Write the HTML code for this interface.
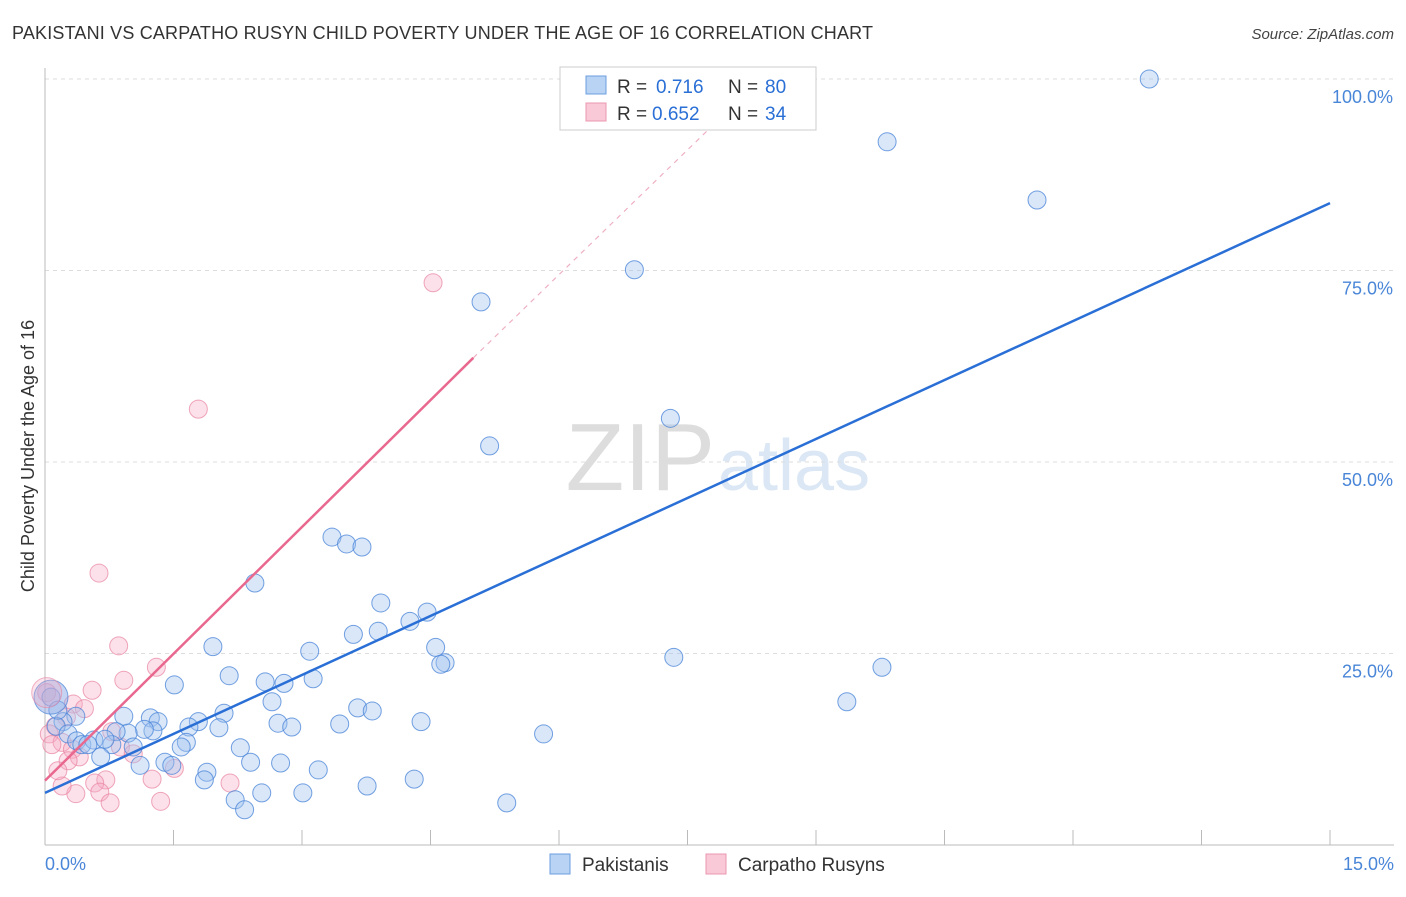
<!DOCTYPE html>
<html><head><meta charset="utf-8"><style>
body{margin:0;background:#fff;font-family:"Liberation Sans",sans-serif;}
svg text{font-family:"Liberation Sans",sans-serif;}
</style></head><body>
<svg id="chart" width="1406" height="892" xmlns="http://www.w3.org/2000/svg">
<text x="12" y="39" font-size="18" fill="#333" textLength="861">PAKISTANI VS CARPATHO RUSYN CHILD POVERTY UNDER THE AGE OF 16 CORRELATION CHART</text>
<text x="1394" y="39" font-size="15" fill="#444" font-style="italic" text-anchor="end">Source: ZipAtlas.com</text>
<text x="715" y="490" font-size="96" fill="#ddd" text-anchor="end" font-family="Liberation Serif">ZIP</text>
<text x="718" y="490" font-size="72" fill="#dbe7f5">atlas</text>
<text transform="translate(34,456) rotate(-90)" font-size="18" fill="#333" text-anchor="middle">Child Poverty Under the Age of 16</text>
<g id="grid"></g><g id="axes"></g><g id="pts"></g><g id="lines"></g>
<g>
<rect x="560" y="67" width="256" height="63" fill="#fff" stroke="#ccc"/>
<rect x="586" y="76" width="20" height="18" fill="#b8d3f3" stroke="#6d9ee0"/>
<rect x="586" y="103" width="20" height="18" fill="#f9c9d7" stroke="#ec97b0"/>
<text x="617" y="93" font-size="19" fill="#333">R =</text><text x="656" y="93" font-size="19" fill="#2a6fd6">0.716</text>
<text x="728" y="93" font-size="19" fill="#333">N =</text><text x="765" y="93" font-size="19" fill="#2a6fd6">80</text>
<text x="617" y="120" font-size="19" fill="#333">R =</text><text x="652" y="120" font-size="19" fill="#2a6fd6">0.652</text>
<text x="728" y="120" font-size="19" fill="#333">N =</text><text x="765" y="120" font-size="19" fill="#2a6fd6">34</text>
</g>
<g>
<rect x="550" y="854" width="20" height="20" fill="#b8d3f3" stroke="#6d9ee0"/>
<text x="582" y="871" font-size="19" fill="#333">Pakistanis</text>
<rect x="706" y="854" width="20" height="20" fill="#f9c9d7" stroke="#ec97b0"/>
<text x="738" y="871" font-size="19" fill="#333">Carpatho Rusyns</text>
</g>
<text x="45" y="870" font-size="18" fill="#4a86d8">0.0%</text>
<text x="1394" y="870" font-size="18" fill="#4a86d8" text-anchor="end">15.0%</text>
</svg>
<script>
const yTicks=[25,50,75,100];
const yTickLabels=["25.0%","50.0%","75.0%","100.0%"];
const xTicks=[0,1.5,3,4.5,6,7.5,9,10.5,12,13.5,15];
const blueX=[12.89,9.83,11.58,6.88,5.09,7.30,5.19,3.35,3.52,3.70,2.45,3.92,4.46,4.26,3.60,3.89,4.56,4.67,4.62,7.34,9.77,9.36,1.96,1.51,2.15,3.09,2.57,2.79,3.13,2.65,3.65,3.82,3.44,4.39,2.72,2.88,5.82,2.09,1.79,1.68,2.03,1.23,1.32,0.92,1.26,1.16,0.97,0.83,1.65,1.59,0.78,1.03,0.36,0.21,0.13,0.27,0.37,0.43,0.57,0.70,0.65,1.11,1.40,1.48,1.89,1.86,2.28,2.40,2.75,3.19,4.31,3.76,2.53,2.22,3.01,2.33,5.39,0.07,0.15,0.50];
const blueY=[100,91.8,84.2,75.1,70.9,55.7,52.1,40.2,39.3,38.9,34.2,31.6,30.4,29.2,27.5,27.9,25.8,23.8,23.6,24.5,23.2,18.7,25.9,20.9,22.1,25.3,21.3,21.1,21.7,18.7,17.9,17.5,15.8,16.1,15.9,15.4,14.5,17.2,16.1,15.4,15.3,16.6,16.1,16.8,14.9,15.1,14.6,14.8,13.4,12.8,13.1,12.8,16.8,16.1,15.5,14.5,13.6,13.1,13.7,13.8,11.5,10.4,10.8,10.4,9.5,8.5,12.7,10.8,10.7,9.8,8.6,7.7,6.8,5.9,6.8,4.6,5.5,19.3,17.6,13.1];
const pinkX=[4.53,1.79,0.63,0.86,1.30,0.92,0.55,0.33,0.46,0.25,0.12,0.05,0.20,0.32,0.08,0.40,0.27,0.78,0.88,1.03,1.25,1.51,0.71,0.58,0.64,0.76,1.35,2.16,0.36,0.20,0.15,0.02];
const pinkY=[73.4,56.9,35.5,26.0,23.2,21.5,20.2,18.4,17.8,16.7,15.5,14.5,13.4,12.5,13.1,11.5,11.0,14.8,12.8,11.9,8.6,10.0,8.5,8.1,6.9,5.5,5.7,8.1,6.7,7.7,9.7,19.9];
const bigBlue={x:0.07,y:19.3}, bigPink={x:0.02,y:19.9};
const blueLine=[[0,6.8],[15,83.8]];
const pinkLine=[[0,8.4],[5.0,63.6]];
const pinkDash=[[5.0,63.6],[7.8,94]];
const X=v=>45+v/15*1285, Y=v=>845-v/100*766;
const NS="http://www.w3.org/2000/svg";
function mk(t,a,p){const e=document.createElementNS(NS,t);for(const k in a)e.setAttribute(k,a[k]);document.getElementById(p).appendChild(e);return e;}
yTicks.forEach((v,i)=>{
 const g=mk('line',{x1:45,x2:1394,y1:Y(v),y2:Y(v),stroke:'#ddd','stroke-dasharray':'4,4'},'grid');
 
 
 const t=mk('text',{x:1393,y:Y(v)+24,'font-size':18,fill:'#4a86d8','text-anchor':'end'},'grid');
 t.textContent=yTickLabels[i];
 
 
});
const ax=mk('line',{x1:45,x2:1394,y1:845,y2:845,stroke:'#bbb'},'axes');


const ay=mk('line',{x1:45,x2:45,y1:68,y2:845,stroke:'#bbb'},'axes');


xTicks.forEach(v=>{const t=mk('line',{x1:X(v),x2:X(v),y1:830,y2:845,stroke:'#bbb'},'axes');
 
 });
pinkX.forEach((x,i)=>{const c=mk('circle',{cx:X(x),cy:Y(pinkY[i]),r:9,fill:'rgba(246,170,195,0.35)',stroke:'rgba(232,130,160,0.7)'},'pts');
 
 });
blueX.forEach((x,i)=>{const c=mk('circle',{cx:X(x),cy:Y(blueY[i]),r:9,fill:'rgba(160,196,240,0.4)',stroke:'rgba(70,130,215,0.75)'},'pts');
 
 });
const bb=mk('circle',{cx:X(bigBlue.x),cy:Y(bigBlue.y),r:17,fill:'rgba(140,170,230,0.5)',stroke:'rgba(70,130,215,0.7)'},'pts');


const bp=mk('circle',{cx:X(bigPink.x),cy:Y(bigPink.y),r:15,fill:'rgba(246,170,195,0.3)',stroke:'rgba(232,130,160,0.6)'},'pts');


const bl=mk('line',{x1:X(blueLine[0][0]),y1:Y(blueLine[0][1]),x2:X(blueLine[1][0]),y2:Y(blueLine[1][1]),stroke:'#2a6fd6','stroke-width':2.5},'lines');


const pl=mk('line',{x1:X(pinkLine[0][0]),y1:Y(pinkLine[0][1]),x2:X(pinkLine[1][0]),y2:Y(pinkLine[1][1]),stroke:'#e8688f','stroke-width':2.5},'lines');


const pd=mk('line',{x1:X(pinkDash[0][0]),y1:Y(pinkDash[0][1]),x2:X(pinkDash[1][0]),y2:Y(pinkDash[1][1]),stroke:'#eeb0c2','stroke-width':1.2,'stroke-dasharray':'5,5'},'lines');


</script>
</body></html>
